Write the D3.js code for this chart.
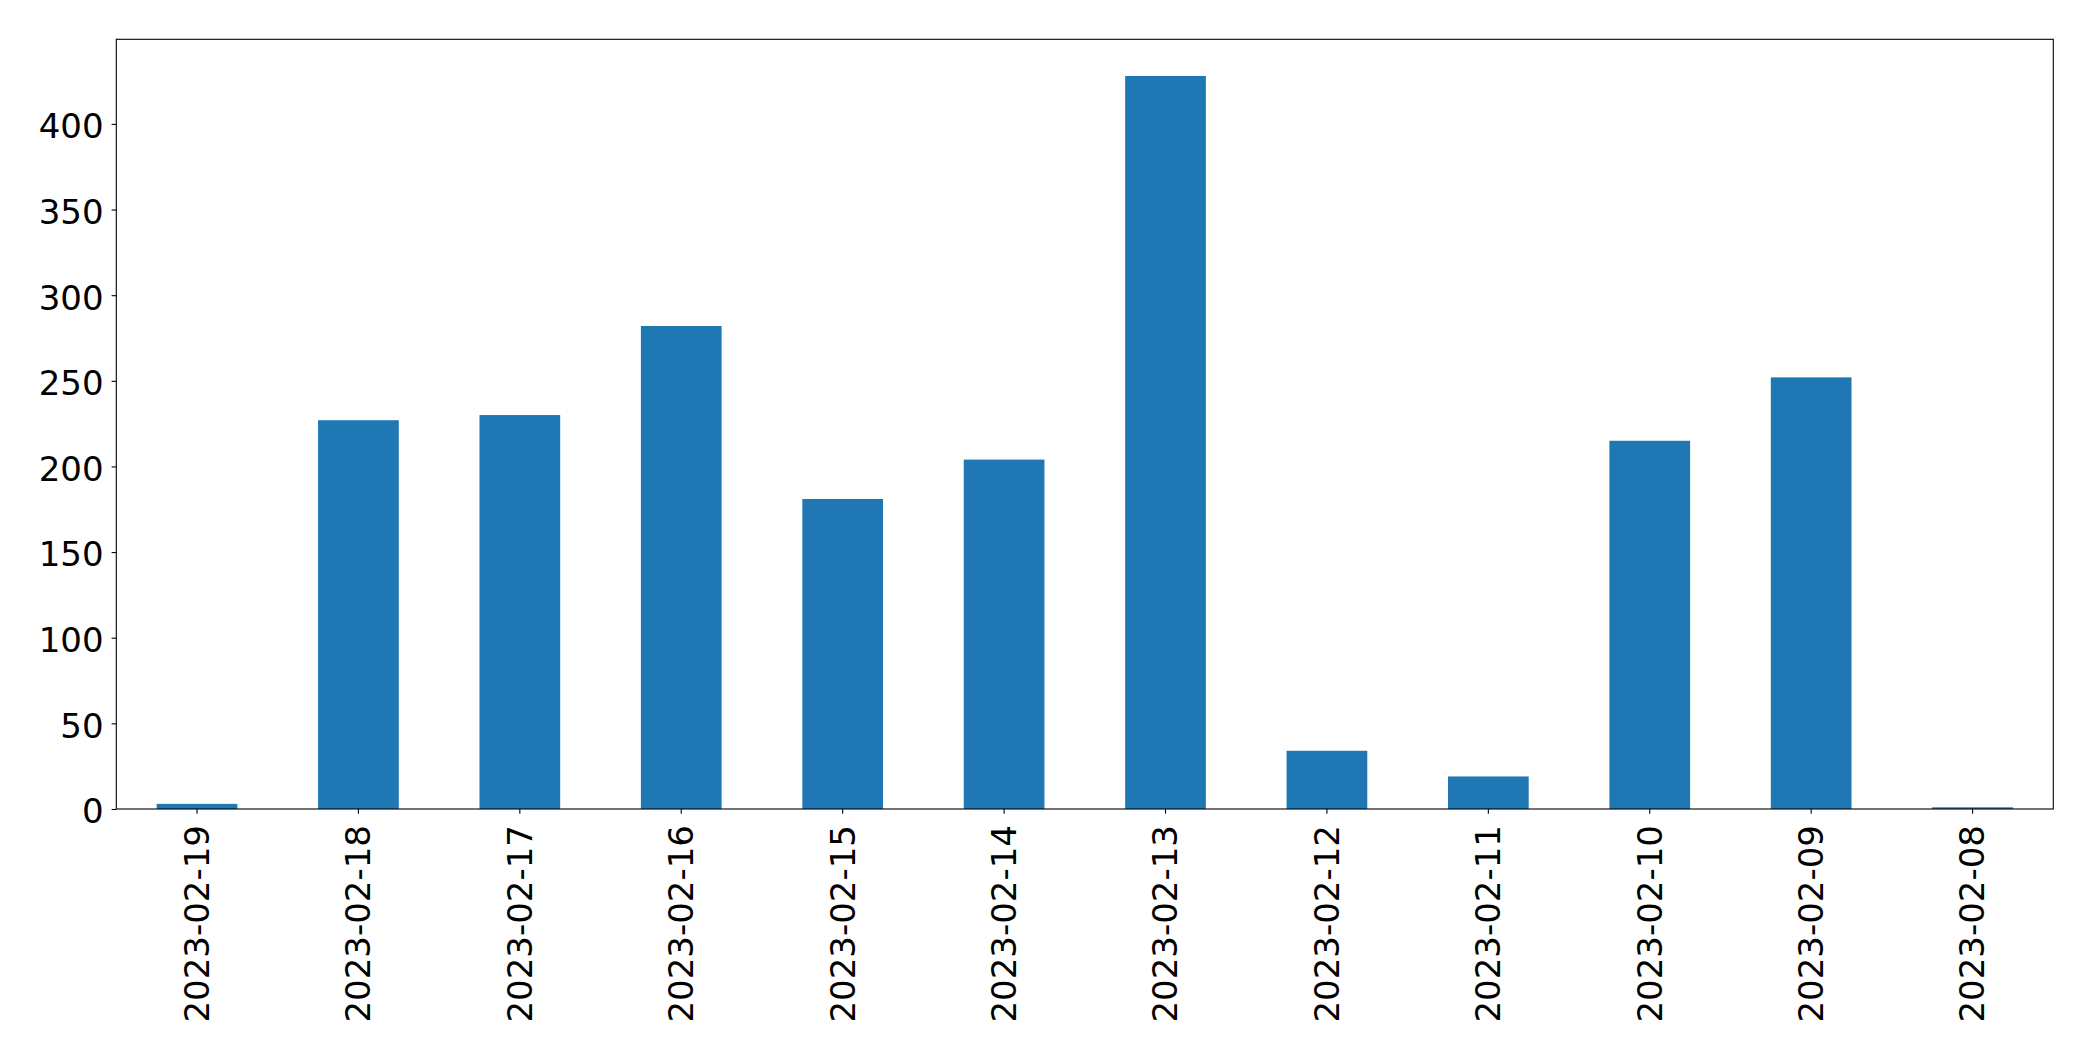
<!DOCTYPE html>
<html>
<head>
<meta charset="utf-8">
<script src="https://cdn.jsdelivr.net/npm/d3@7"></script>
<style>
  html, body { margin: 0; padding: 0; background: #fff; }
  svg { display: block; }
  text { font-family: "DejaVu Sans", sans-serif; fill: #000; }
</style>
</head>
<body>
<svg id="chart" width="2093" height="1061"></svg>
<script>
const categories = ["2023-02-19","2023-02-18","2023-02-17","2023-02-16","2023-02-15","2023-02-14","2023-02-13","2023-02-12","2023-02-11","2023-02-10","2023-02-09","2023-02-08"];
const values = [3, 227, 230, 282, 181, 204, 428, 34, 19, 215, 252, 1];
const yTicks = [0, 50, 100, 150, 200, 250, 300, 350, 400];

const svg = d3.select("#chart");
const margin = {left: 116.3, right: 2093 - 2053.3, top: 39.3, bottom: 1061 - 809};
const W = 2093, H = 1061;

const x = d3.scaleBand()
  .domain(categories)
  .range([margin.left, W - margin.right])
  .paddingInner(0.5)
  .paddingOuter(0.25);

const y = d3.scaleLinear()
  .domain([0, d3.max(values) * 1.05])
  .range([H - margin.bottom, margin.top]);

svg.append("g").selectAll("rect")
  .data(values)
  .join("rect")
  .attr("x", (d, i) => x(categories[i]))
  .attr("width", x.bandwidth())
  .attr("y", d => y(d))
  .attr("height", d => y(0) - y(d))
  .attr("fill", "#1f77b4");

const fs = 34;

const yAxis = svg.append("g")
  .attr("transform", `translate(${margin.left},0)`)
  .call(d3.axisLeft(y).tickValues(yTicks).tickSize(4.7).tickPadding(8));
yAxis.select(".domain").remove();
yAxis.selectAll(".tick line").attr("stroke", "#000").attr("stroke-width", 1.1);
yAxis.selectAll(".tick text")
  .style("font-family", "'DejaVu Sans', sans-serif")
  .style("font-size", fs + "px")
  .attr("dy", "0.35em")
  .attr("y", 2);

const xAxis = svg.append("g")
  .attr("transform", `translate(0,${H - margin.bottom})`)
  .call(d3.axisBottom(x).tickSize(4.7).tickPadding(0));
xAxis.select(".domain").remove();
xAxis.selectAll(".tick line").attr("stroke", "#000").attr("stroke-width", 1.1);
xAxis.selectAll(".tick text")
  .style("font-family", "'DejaVu Sans', sans-serif")
  .style("font-size", fs + "px")
  .attr("text-anchor", "end")
  .attr("transform", "translate(0,16) rotate(-90)")
  .attr("x", 0)
  .attr("y", 0)
  .attr("dy", "0.35em");

// frame
svg.append("rect")
  .attr("x", margin.left)
  .attr("y", margin.top)
  .attr("width", W - margin.left - margin.right)
  .attr("height", H - margin.top - margin.bottom)
  .attr("fill", "none")
  .attr("stroke", "#000")
  .attr("stroke-width", 1.1);
</script>
</body>
</html>
